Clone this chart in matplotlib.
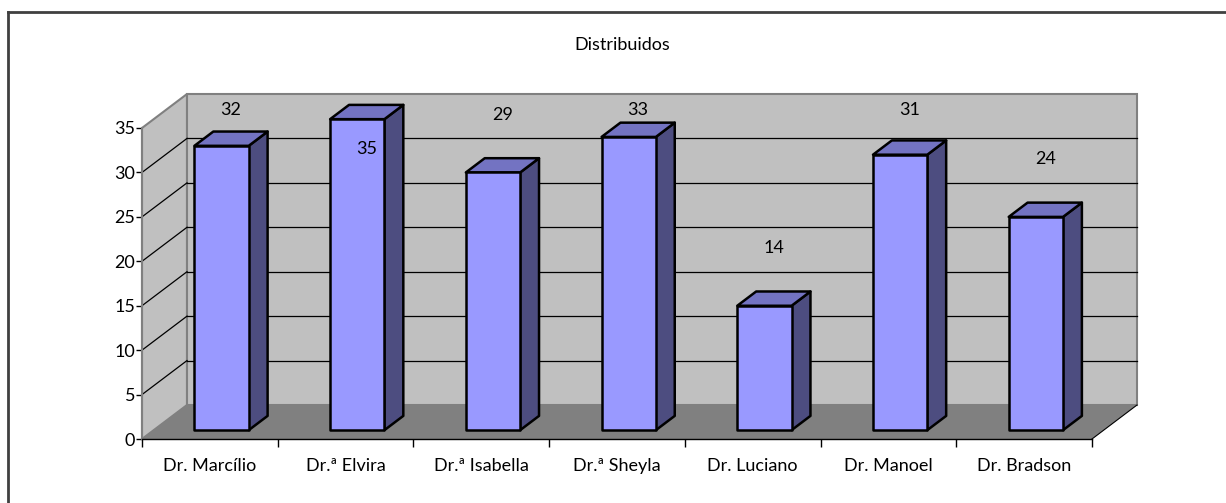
import matplotlib
matplotlib.use("Agg")
import matplotlib.pyplot as plt
from matplotlib.patches import Polygon
from matplotlib.lines import Line2D

plt.rcParams['font.family'] = ['Lato', 'DejaVu Sans']

# data
medicos = ["Dr. Marcílio", "Dr.ª Elvira", "Dr.ª Isabella", "Dr.ª Sheyla",
           "Dr. Luciano", "Dr. Manoel", "Dr. Bradson"]
distribuidos = [32, 35, 29, 33, 14, 31, 24]
yticks = [0, 5, 10, 15, 20, 25, 30, 35]
titulo = "Distribuidos"

# 3d look (in data units)
n = len(medicos)
ymax = 35
dx, dy = 0.3316, 3.826      # depth offset of the back wall
f0, fd = 0.26, 0.42         # bar front position / bar depth (fraction of depth)
bw = 0.40                   # bar width

W, H = 1226, 503
fig = plt.figure(figsize=(W / 100, H / 100), dpi=100)
ax = fig.add_axes([142 / W, (H - 439) / H, 950 / W, 311 / H])
ax.set_xlim(0, n)
ax.set_ylim(0, ymax)
ax.patch.set_visible(False)

wall_c = "#C0C0C0"
edge_c = "#808080"
floor_c = "#808080"

# side wall and back wall
ax.add_patch(Polygon([(0, 0), (dx, dy), (dx, ymax + dy), (0, ymax)],
                     closed=True, fc=wall_c, ec=edge_c, lw=1.5, clip_on=False, zorder=1))
ax.add_patch(Polygon([(dx, dy), (n + dx, dy), (n + dx, ymax + dy), (dx, ymax + dy)],
                     closed=True, fc=wall_c, ec=edge_c, lw=1.5, clip_on=False, zorder=1))
# gridlines
for v in yticks[1:-1]:
    ax.plot([dx, n + dx], [v + dy, v + dy], color="black", lw=0.9, clip_on=False, zorder=2)
    ax.plot([0, dx], [v, v + dy], color="black", lw=0.9, clip_on=False, zorder=2)
# floor
ax.add_patch(Polygon([(0, 0), (n, 0), (n + dx, dy), (dx, dy)],
                     closed=True, fc=floor_c, ec="none", clip_on=False, zorder=2))
ax.plot([n, n + dx], [0, dy], color="black", lw=0.8, clip_on=False, zorder=2)

# bars
for i, v in enumerate(distribuidos):
    x0 = i + 0.5 - bw / 2 + f0 * dx
    y0 = f0 * dy
    x1 = x0 + bw
    ddx, ddy = fd * dx, fd * dy
    front = [(x0, y0), (x1, y0), (x1, y0 + v), (x0, y0 + v)]
    side = [(x1, y0), (x1 + ddx, y0 + ddy), (x1 + ddx, y0 + v + ddy), (x1, y0 + v)]
    top = [(x0, y0 + v), (x1, y0 + v), (x1 + ddx, y0 + v + ddy), (x0 + ddx, y0 + v + ddy)]
    for pts, c in [(side, "#4D4D80"), (top, "#7373C2"), (front, "#9999FF")]:
        ax.add_patch(Polygon(pts, closed=True, fc=c, ec="black", lw=1.8,
                             joinstyle="round", clip_on=False, zorder=3))
    # data label (Excel places it above, or inside when there is no room)
    ly = v + 7.5
    if ly > 41:
        ly = v - 2.4
    ly = min(ly, 37)
    ax.text(i + 0.5 + (f0 + fd / 2) * dx, ly, str(v), ha="center", va="center",
            fontsize=13, color="black", zorder=4, clip_on=False)

# axes
for s in ["top", "right"]:
    ax.spines[s].set_visible(False)
ax.spines["left"].set_color("#808080")
ax.spines["left"].set_linewidth(1.5)
ax.spines["bottom"].set_color("black")
ax.spines["bottom"].set_linewidth(1.0)
ax.spines["left"].set_zorder(2)
ax.set_yticks(yticks)
ax.set_yticklabels([str(t) for t in yticks])
ax.tick_params(axis="y", length=4, width=1, color="black", labelsize=13, pad=1)
ax.set_xticks(range(n + 1))
ax.set_xticklabels([])
ax.tick_params(axis="x", length=6, width=1, color="black")
for i, name in enumerate(medicos):
    ax.text(i + 0.5, -3.05, name, ha="center", va="center", fontsize=13, clip_on=False)

fig.text(622 / W, 1 - 45 / H, titulo, ha="center", va="center", fontsize=13)

# outer frame
fig.add_artist(Line2D([8 / W, 1.0], [1 - 12 / H, 1 - 12 / H], color="#404040", lw=2,
                      transform=fig.transFigure))
fig.add_artist(Line2D([8 / W, 8 / W], [1 - 12 / H, 0.0], color="#404040", lw=2,
                      transform=fig.transFigure))

fig.savefig("out.png", dpi=100)
